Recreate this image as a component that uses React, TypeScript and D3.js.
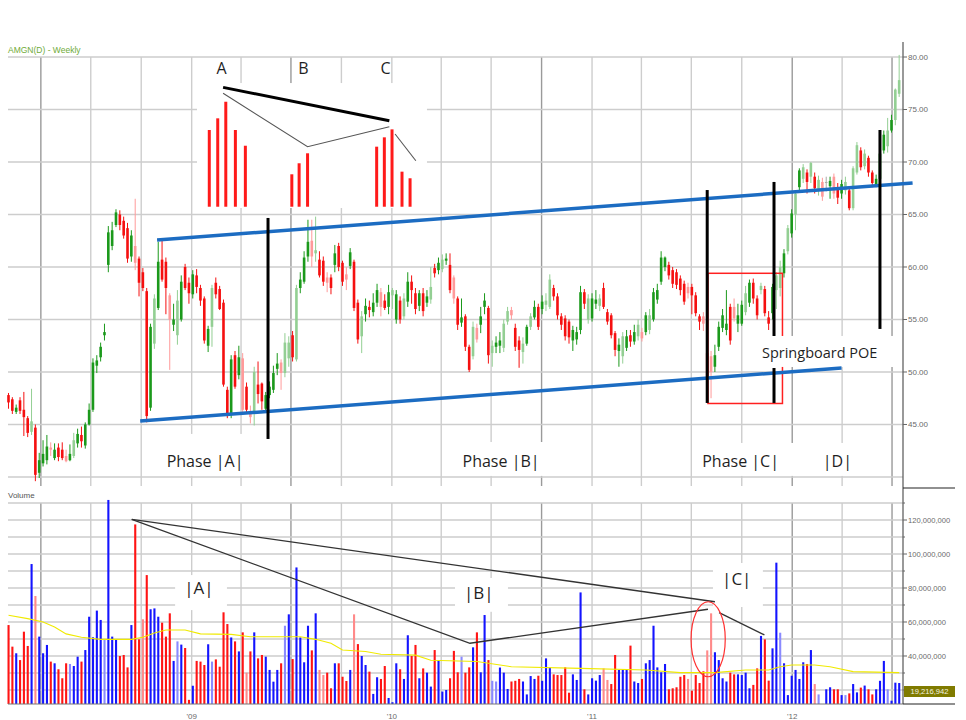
// @ts-nocheck
import * as d3 from "d3"

// weekly AMGN bars, first bar week of 2 Feb 2008
const firstWeek = new Date(2008, 1, 2)
const DAY = 86400000
const weekDate = (w) => new Date(firstWeek.getTime() + w * 7 * DAY)

const opens = [
  47.8, 47.4, 46.2, 47.3, 46.4, 45.6, 44.3, 44.7, 40.4, 41.3,
  41.6, 42.8, 41.8, 42.8, 42.6, 42.0, 41.6, 42.0, 43.2, 44.0,
  43.0, 45.0, 46.4, 50.6, 51.4, 53.5, 60.2, 62.0, 64.0, 65.0,
  64.4, 63.7, 61.0, 62.0, 60.8, 59.5, 57.7, 46.6, 52.7, 56.1,
  60.7, 60.5, 57.3, 54.5, 53.5, 55.0, 60.0, 58.5, 57.4, 59.2,
  58.0, 57.0, 52.5, 54.3, 58.5, 57.9, 56.6, 48.3, 45.9, 51.6,
  49.7, 51.3, 48.6, 46.0, 46.1, 48.8, 48.9, 46.5, 47.8, 48.3,
  50.3, 50.9, 49.9, 51.3, 53.5, 51.2, 58.0, 58.6, 61.0, 62.5,
  61.3, 60.7, 60.6, 59.0, 59.0, 60.2, 62.0, 60.4, 59.3, 60.1,
  60.5, 56.6, 53.4, 55.5, 56.2, 55.7, 56.6, 57.6, 56.8, 56.2,
  57.3, 55.0, 56.8, 55.3, 56.7, 58.6, 57.5, 56.3, 57.5, 56.6,
  56.9, 59.9, 59.7, 59.8, 60.6, 60.2, 59.0, 57.0, 54.7, 55.3,
  52.4, 51.5, 54.2, 54.5, 56.2, 56.1, 51.8, 52.4, 52.5, 52.3,
  54.8, 55.9, 54.2, 53.0, 51.9, 52.7, 54.3, 55.2, 56.2, 56.0,
  56.4, 56.2, 58.0, 57.2, 55.3, 55.1, 54.8, 53.0, 53.1, 54.0,
  57.6, 55.0, 55.1, 56.5, 56.3, 58.0, 55.7, 55.4, 53.7, 52.0,
  51.5, 52.3, 53.5, 52.9, 53.4, 53.8, 53.8, 54.0, 55.0, 56.9,
  58.6, 60.0, 60.2, 59.7, 59.5, 58.9, 58.4, 58.1, 58.1, 57.3,
  55.3, 55.3, 51.8, 51.5, 50.5, 52.4, 54.2, 54.0, 56.2, 56.2,
  54.6, 54.6, 55.7, 56.6, 58.5, 57.0, 57.8, 57.9, 55.2, 55.6,
  57.8, 58.0, 59.4, 61.5, 63.2, 65.0, 67.6, 68.4, 69.0, 68.6,
  68.6, 67.3, 68.1, 68.1, 67.7, 68.6, 67.6, 67.0, 67.3, 67.3,
  65.6, 69.0, 71.1, 69.6, 70.4, 69.0, 67.8, 68.4, 71.1, 71.5,
  73.0, 74.0, 76.5
]
const highs = [
  48.0, 47.6, 46.9, 47.6, 48.1, 45.8, 48.4, 45.0, 42.3, 43.5,
  44.0, 43.3, 43.2, 43.2, 43.3, 42.6, 43.1, 44.2, 44.6, 44.8,
  45.2, 47.0, 51.3, 51.6, 52.8, 54.6, 63.9, 64.3, 65.5, 65.4,
  64.8, 64.2, 63.5, 66.5, 61.0, 59.9, 58.0, 54.6, 57.4, 62.4,
  62.5, 60.9, 57.5, 56.5, 57.8, 59.2, 60.3, 59.0, 59.7, 59.8,
  58.3, 57.2, 54.4, 58.3, 59.0, 58.2, 56.9, 48.6, 51.6, 52.0,
  52.5, 51.8, 49.0, 46.8, 50.5, 51.0, 49.0, 48.1, 49.1, 50.6,
  51.8, 51.2, 53.7, 53.4, 53.9, 58.3, 59.5, 61.5, 64.5, 64.5,
  64.8, 61.5, 61.0, 59.5, 59.3, 62.1, 62.3, 60.6, 60.0, 61.8,
  60.7, 56.9, 55.8, 57.0, 56.8, 57.5, 58.4, 58.0, 57.4, 58.3,
  58.0, 57.8, 57.2, 57.5, 59.5, 59.2, 58.0, 57.8, 58.0, 57.8,
  60.0, 60.3, 60.9, 61.2, 61.3, 61.3, 59.2, 57.2, 57.0, 55.5,
  52.6, 54.8, 54.6, 56.2, 57.5, 56.3, 53.0, 53.4, 53.8, 55.0,
  56.2, 56.2, 54.6, 53.4, 53.3, 54.5, 55.6, 56.8, 56.5, 57.3,
  57.5, 59.3, 58.3, 57.5, 55.6, 55.4, 55.0, 54.4, 54.3, 58.2,
  57.9, 57.4, 57.5, 57.8, 57.4, 58.5, 56.0, 55.6, 53.9, 53.2,
  53.8, 54.0, 54.0, 54.5, 55.0, 54.2, 55.7, 56.0, 58.0, 58.4,
  61.5, 61.0, 60.5, 60.0, 59.8, 59.2, 58.7, 58.5, 58.4, 57.6,
  55.5, 55.7, 54.0, 52.0, 52.6, 54.8, 56.0, 57.8, 56.5, 57.0,
  56.5, 56.8, 58.2, 58.8, 58.9, 57.3, 58.5, 58.2, 55.8, 58.4,
  59.5, 60.6, 61.7, 64.0, 65.5, 67.3, 69.4, 69.8, 69.3, 70.0,
  69.0, 68.7, 68.5, 68.6, 68.6, 68.9, 68.0, 68.3, 68.6, 67.5,
  69.6, 71.9, 71.4, 71.2, 70.6, 69.2, 68.8, 71.5, 73.0, 74.2,
  74.5, 77.0, 80.2
]
const lows = [
  46.5, 46.0, 46.0, 46.0, 43.9, 43.8, 44.0, 39.6, 39.9, 41.0,
  41.2, 42.0, 41.6, 41.5, 41.6, 41.4, 41.5, 41.8, 42.8, 42.8,
  42.7, 44.9, 46.2, 49.9, 51.0, 53.0, 59.5, 61.6, 63.8, 63.5,
  62.7, 60.4, 60.5, 59.7, 57.2, 57.7, 45.2, 46.3, 52.2, 55.9,
  58.6, 55.5, 50.2, 53.9, 52.6, 54.8, 57.8, 56.5, 57.0, 57.5,
  56.3, 52.7, 51.9, 52.4, 57.0, 55.9, 48.6, 45.6, 45.6, 48.4,
  49.3, 46.0, 46.1, 45.1, 44.9, 47.0, 46.4, 46.3, 47.5, 48.0,
  49.7, 48.3, 49.5, 50.5, 51.0, 51.0, 57.5, 58.4, 60.5, 60.0,
  60.5, 59.0, 58.2, 57.6, 57.4, 59.5, 59.6, 58.2, 57.8, 59.8,
  55.8, 52.7, 51.8, 54.8, 55.2, 55.3, 56.2, 55.3, 55.9, 55.5,
  56.0, 54.6, 54.6, 55.0, 56.2, 56.5, 55.5, 55.8, 55.3, 56.2,
  56.5, 59.0, 59.3, 59.5, 60.2, 57.5, 56.5, 54.0, 54.3, 52.0,
  50.0, 51.2, 52.8, 53.7, 55.5, 50.8, 50.5, 51.8, 51.8, 51.9,
  54.5, 55.0, 52.0, 50.4, 50.8, 52.5, 54.0, 55.0, 54.0, 55.5,
  55.8, 56.0, 56.8, 55.0, 54.0, 53.0, 52.7, 52.0, 52.6, 53.6,
  56.0, 54.6, 54.8, 56.0, 55.8, 56.0, 54.5, 53.2, 51.5, 50.5,
  50.8, 52.0, 52.4, 52.6, 53.0, 52.9, 53.5, 53.6, 54.8, 56.5,
  58.3, 59.6, 58.8, 58.0, 57.9, 57.3, 56.4, 57.0, 55.5, 55.3,
  54.0, 53.9, 47.6, 47.5, 50.0, 52.0, 53.8, 53.5, 52.6, 54.8,
  53.8, 54.4, 55.4, 56.2, 56.5, 55.0, 57.4, 55.3, 54.0, 55.0,
  56.0, 57.2, 59.0, 61.2, 62.8, 63.5, 67.2, 68.0, 67.0, 68.0,
  67.0, 66.8, 66.3, 67.2, 66.5, 66.5, 66.0, 66.5, 66.9, 65.4,
  65.4, 68.8, 69.2, 69.3, 68.6, 67.6, 67.6, 68.0, 70.8, 70.9,
  72.8, 73.5, 76.2
]
const closes = [
  47.1, 46.3, 46.6, 46.3, 45.7, 44.2, 45.3, 40.2, 41.6, 42.2,
  42.9, 42.6, 42.6, 41.9, 41.8, 41.5, 42.2, 43.5, 44.1, 43.4,
  45.0, 46.4, 50.9, 51.1, 52.4, 53.8, 63.3, 63.5, 65.2, 64.0,
  63.0, 60.8, 63.0, 60.4, 58.5, 58.0, 45.8, 54.3, 57.0, 60.5,
  58.8, 58.0, 55.0, 55.0, 56.8, 58.6, 58.0, 57.5, 59.3, 58.1,
  56.8, 53.0, 54.1, 58.0, 57.4, 56.0, 48.8, 45.8, 51.2, 48.6,
  51.4, 46.4, 46.4, 45.7, 50.0, 47.9, 47.2, 47.8, 48.6, 49.9,
  50.8, 49.9, 52.8, 52.8, 51.4, 58.0, 58.8, 60.9, 62.4, 61.0,
  61.6, 59.2, 58.6, 58.5, 58.0, 61.3, 60.0, 58.6, 58.8, 61.4,
  56.1, 53.1, 55.3, 56.3, 55.9, 56.6, 57.8, 56.2, 56.1, 57.6,
  57.8, 57.4, 55.0, 57.0, 58.6, 57.8, 56.0, 57.5, 55.8, 57.2,
  58.1, 59.4, 60.4, 60.7, 60.8, 57.8, 57.0, 54.5, 55.2, 52.4,
  50.2, 54.3, 53.1, 55.3, 56.8, 51.6, 52.5, 52.8, 53.0, 54.6,
  55.8, 55.4, 52.4, 52.1, 52.7, 54.3, 55.3, 56.2, 54.3, 56.7,
  56.8, 58.8, 57.2, 55.4, 54.5, 53.4, 53.3, 54.0, 53.8, 57.6,
  56.5, 57.0, 57.0, 56.9, 57.0, 56.2, 54.8, 53.5, 52.1, 52.6,
  53.4, 53.4, 52.9, 53.8, 54.5, 53.2, 55.4, 55.4, 57.6, 57.8,
  60.9, 60.9, 59.2, 58.4, 58.3, 57.8, 56.7, 57.5, 57.3, 55.6,
  54.8, 54.6, 49.5, 50.0, 51.6, 54.3, 55.4, 54.6, 53.0, 55.1,
  55.4, 56.4, 57.5, 58.5, 57.0, 55.4, 58.2, 55.6, 54.6, 58.1,
  59.2, 60.0, 61.3, 63.7, 65.1, 67.0, 69.2, 69.5, 68.1, 69.9,
  67.5, 68.3, 66.7, 68.1, 68.2, 67.0, 66.6, 67.9, 68.1, 65.6,
  69.4, 71.6, 69.5, 70.8, 69.0, 68.0, 68.4, 70.8, 72.6, 73.0,
  74.0, 76.9, 77.8
]
// weekly volume, millions of shares
const volumes = [
  58.2, 45.5, 41.6, 37.6, 54.3, 45.9, 94.1, 75.3, 51.4, 41.6,
  46.5, 36.7, 35.7, 32.2, 26.9, 35.7, 35.3, 34.1, 39.6, 36.7,
  43.5, 63.1, 51.0, 66.7, 61.2, 49.8, 131.8, 51.4, 49.8, 40.0,
  40.6, 33.3, 58.2, 117.4, 49.8, 61.6, 87.6, 67.5, 68.0, 63.1,
  59.6, 51.4, 65.1, 37.1, 48.6, 46.7, 44.7, 14.2, 22.5, 37.1,
  36.7, 34.7, 46.9, 36.7, 38.0, 33.7, 65.7, 58.8, 50.9, 48.6,
  42.7, 53.9, 30.2, 42.7, 53.9, 38.6, 40.6, 39.6, 31.8, 24.9,
  31.8, 35.7, 57.8, 64.5, 38.2, 92.1, 50.9, 36.3, 57.8, 43.3,
  65.1, 31.8, 28.8, 30.2, 21.0, 35.7, 35.7, 27.8, 25.3, 31.8,
  64.5, 47.0, 40.0, 34.7, 30.8, 17.7, 27.5, 26.5, 34.1, 15.3,
  12.8, 35.7, 32.2, 26.5, 52.2, 40.0, 46.5, 26.9, 32.7, 30.2,
  22.0, 43.5, 37.6, 19.1, 20.0, 26.9, 43.0, 30.4, 39.6, 30.2,
  33.3, 45.1, 53.9,
  30.4, 64.1, 37.6, 25.4, 25.0, 33.2, 30.2, 20.6, 25.0, 25.4,
  26.5, 25.0, 17.4, 28.2, 26.5, 28.4, 25.4, 38.6, 33.2, 29.2,
  28.8, 28.8, 33.3, 18.4, 29.2, 25.9, 77.4, 20.4, 17.4, 26.9,
  25.5, 28.8, 32.7, 25.9, 23.5, 40.6, 31.8, 31.8, 31.8, 46.1,
  25.0, 24.1, 26.5, 35.7, 37.6, 57.8, 33.3, 30.4, 35.3, 20.4,
  21.0, 21.6, 27.8, 28.8, 26.5, 19.6, 28.8, 24.1, 31.0, 43.3,
  65.1, 42.2, 37.6, 26.9, 25.0, 30.2, 29.2, 29.2, 28.8, 30.2,
  21.0, 23.0, 32.7, 51.8, 49.8, 25.5, 44.5, 94.9, 53.7, 35.7,
  17.0, 28.4, 31.8, 26.5, 36.3, 35.3, 43.5, 23.5, 17.4, 10.0,
  20.4, 21.6, 20.4, 20.4, 17.0, 17.0, 18.0, 23.5, 18.6, 21.4,
  22.6, 20.4, 17.4, 20.4, 25.4, 37.1, 20.4, 13.7, 24.3, 24.1
]
// weeks drawn in the pale shade
const fadedCandleWeeks = [6, 11, 15, 17, 33, 38, 42, 44, 53, 61, 63, 64, 71, 72, 73, 75, 79, 80, 83, 88, 92, 97, 100, 103, 110, 113, 116, 121, 122, 126, 129, 130, 131, 134, 136, 140, 141, 151, 154, 160, 164, 165, 167, 177, 181, 183, 189, 192, 196, 200, 201, 203, 205, 207, 209, 211, 212, 215, 218, 220, 221, 223, 229, 231, 232]
const fadedVolumeWeeks = [7, 16, 25, 35, 44, 53, 62, 72, 81, 82, 90, 118, 126, 127, 155, 156, 177, 182, 183, 201, 210, 211, 218, 229]
// volume moving average [week, millions]
const volumeAverage = [[0, 64], [5, 62], [9, 60], [12, 57], [15, 53], [19, 51], [24, 49.8], [32, 49.8], [35, 51], [38, 53.5], [41, 55.3], [46, 55.3], [50, 53], [58, 52.7], [63, 51.3], [76, 51.3], [80, 49.8], [84, 47.5], [87, 43.5], [93, 42.6], [97, 41], [106, 40.5], [110, 37.5], [122, 36.8], [131, 33.7], [149, 32.7], [166, 31.8], [175, 30.2], [184, 30.2], [192, 31.8], [198, 31.8], [201, 33.7], [204, 34.7], [210, 34.7], [214, 33.7], [220, 30.8], [232, 30.2]]

const priceGrid = [40, 45, 50, 55, 60, 65, 70, 75, 80]
const priceTicks = [45, 50, 55, 60, 65, 70, 75, 80]
const volumeGrid = [20, 30, 40, 50, 60, 70, 80, 90, 100, 110, 120, 130]
const volumeTicks = [40, 60, 80, 100, 120]
const yearTicks = [["'09", new Date(2009, 0, 1)], ["'10", new Date(2010, 0, 1)], ["'11", new Date(2011, 0, 1)], ["'12", new Date(2012, 0, 1)]]
const lastVolume = "19,216,942"

// annotations, in [week, price] or [week, volume]
const channelLines = [[[38.7, 62.57], [235.5, 68.0]], [[34.3, 45.33], [217.0, 50.38]]]
const phaseMarkers = [[67.6, 64.67, 43.62], [182.0, 67.33, 47.05], [199.4, 68.1, 53.43], [199.4, 50.38, 47.05], [227.0, 73.05, 54.1]]
const springboardBox = [182.2, 201.6, 59.4, 47.0]
const priceLabels = [["Phase |A|", 51.2, 41.52, 16], ["Phase |B|", 128.3, 41.46, 16], ["Phase |C|", 190.7, 41.46, 16], ["|D|", 215.9, 41.46, 16], ["Springboard POE", 211.3, 51.84, 14.5]]
const priceLabelBoxes = [[39.5, 62.9, 44.1, 40.1], [116.3, 149.4, 43.33, 40.1], [180.1, 223.8, 43.24, 40.1], [195.7, 230.9, 53.43, 50.48], [49.1, 109.0, 77.52, 65.62]]
const insetLetters = [["A", 55.5, 78.92], ["B", 76.8, 78.92], ["C", 98.2, 78.92]]
const insetBarWeeks = [52.3, 54.5, 56.6, 59.1, 61.7, 73.8, 75.7, 77.9, 95.9, 97.9, 99.9, 102.5, 104.6]
const insetBarTops = [73.05, 74.16, 75.74, 73.05, 71.55, 68.83, 69.88, 70.83, 71.46, 72.35, 73.11, 69.08, 68.45]
const insetBarBase = 65.74
const insetThick = [[55.9, 77.11], [99.2, 73.93]]
const insetThin = [[[55.9, 76.54], [77.9, 71.46], [99.2, 73.36]], [[100.7, 72.67], [106.1, 70.12]]]
const volumeLines = [[[32.1, 120.4], [184.0, 71.9]], [[32.1, 120.4], [120.2, 47.5], [182.2, 67.5]], [[185.1, 65.5], [196.9, 52.4]]]
const volumeEllipse = [177.8, 186.7, 71.9, 27.8]
const volumeLabels = [["|A|", 49.6, 80.0], ["|B|", 122.5, 77.1], ["|C|", 189.7, 85.3]]
const volumeLabelBoxes = [[43.4, 56.9, 87.6, 67.0], [116.3, 130.1, 85.9, 66.0], [183.5, 196.5, 94.7, 68.8]]

export default function App() {
  const width = 966, height = 720
  const left = 8, right = 903
  const x = d3.scaleTime().domain([weekDate(-0.13), weekDate(233)]).range([left, right])
  const xw = (w) => x(weekDate(w))
  const yP = d3.scaleLinear().domain([38.95, 81.43]).range([488, 42])
  const yV = d3.scaleLinear().domain([11.76, 137.65]).range([704, 490])
  const weeks = d3.range(closes.length)
  const fadedC = new Set(fadedCandleWeeks)
  const fadedV = new Set(fadedVolumeWeeks)
  const quarters = d3.timeMonth.every(3).range(x.domain()[0], x.domain()[1])
  const pLine = d3.line().x(d => xw(d[0])).y(d => yP(d[1]))
  const vLine = d3.line().x(d => xw(d[0])).y(d => yV(d[1]))
  const font = "'Liberation Sans', Arial, sans-serif"
  const noteFont = "'Open Sans', sans-serif"
  const grid = "#cdcdcd"

  return (
    <svg width={width} height={height} style={{ position: "absolute", left: 0, top: 0, background: "#fff" }}>
      <rect width={width} height={height} fill="#fff" />

      {/* grid */}
      {quarters.map((q, i) => (
        <g key={"q" + i} stroke={i % 5 === 0 || i === quarters.length - 1 ? "#9a9a9a" : grid} strokeWidth={1.4}>
          <line x1={x(q)} x2={x(q)} y1={yP(80)} y2={486} />
          <line x1={x(q)} x2={x(q)} y1={yV(130)} y2={704} />
        </g>
      ))}
      {priceGrid.map(p => (
        <line key={"pg" + p} x1={left} x2={right} y1={yP(p)} y2={yP(p)} stroke={grid} strokeWidth={1.4} />
      ))}
      {volumeGrid.map(v => (
        <line key={"vg" + v} x1={left} x2={right} y1={yV(v)} y2={yV(v)} stroke={grid} strokeWidth={1.4} />
      ))}

      {/* white boxes behind the notes */}
      {priceLabelBoxes.map((b, i) => (
        <rect key={"pb" + i} x={xw(b[0])} y={yP(b[2])} width={xw(b[1]) - xw(b[0])} height={yP(b[3]) - yP(b[2])} fill="#fff" />
      ))}
      {volumeLabelBoxes.map((b, i) => (
        <rect key={"vb" + i} x={xw(b[0])} y={yV(b[2])} width={xw(b[1]) - xw(b[0])} height={yV(b[3]) - yV(b[2])} fill="#fff" />
      ))}

      {/* candles */}
      {weeks.map(i => {
        const o = opens[i], c = closes[i]
        const f = fadedC.has(i)
        const color = o === c ? "#a9a9a9" : c > o ? (f ? "#93cf93" : "#1b991b") : (f ? "#ff9a9a" : "#f51010")
        const cx = xw(i)
        const top = yP(Math.max(o, c)), bot = yP(Math.min(o, c))
        return (
          <g key={"c" + i}>
            <line x1={cx} x2={cx} y1={yP(highs[i])} y2={yP(lows[i])} stroke={color} strokeWidth={1} />
            <rect x={cx - 1.3} y={top} width={2.6} height={Math.max(1, bot - top)} fill={color} />
          </g>
        )
      })}

      {/* volume */}
      {weeks.map(i => {
        const up = closes[i] >= opens[i]
        const f = fadedV.has(i)
        const color = up ? (f ? "#8a8aff" : "#1414ff") : (f ? "#ff8a8a" : "#ff1414")
        const top = yV(Math.max(volumes[i], yV.domain()[0]))
        return <rect key={"v" + i} x={xw(i) - 1} y={top} width={2.1} height={704 - top} fill={color} />
      })}
      <path d={vLine(volumeAverage)} fill="none" stroke="#f0ea00" strokeWidth={1.1} />
      <line x1={left} x2={right} y1={704} y2={704} stroke="#777" strokeWidth={1} />

      {/* axes */}
      <line x1={right} x2={right} y1={42} y2={488} stroke="#555" strokeWidth={1.2} />
      <line x1={right} x2={right} y1={488} y2={704} stroke="#555" strokeWidth={1.2} />
      <line x1={right} x2={955} y1={488} y2={488} stroke="#222" strokeWidth={1.2} />
      <line x1={right} x2={955} y1={704} y2={704} stroke="#222" strokeWidth={1.2} />
      {priceTicks.map(p => (
        <g key={"pt" + p}>
          <line x1={right} x2={right + 4} y1={yP(p)} y2={yP(p)} stroke="#666" />
          <text x={right + 5} y={yP(p)} dy="0.35em" fontFamily={font} fontSize={8} fill="#6a6a6a">{p.toFixed(2)}</text>
        </g>
      ))}
      {volumeGrid.map(v => (
        <line key={"vt" + v} x1={right} x2={right + (v % 20 === 0 ? 4 : 2)} y1={yV(v)} y2={yV(v)} stroke="#666" />
      ))}
      {volumeTicks.map(v => (
        <text key={"vl" + v} x={right + 5} y={yV(v)} dy="0.35em" fontFamily={font} fontSize={7.6} fill="#6a6a6a">{d3.format(",")(v * 1e6)}</text>
      ))}
      <rect x={right + 1} y={686} width={51} height={11} fill="#807b00" />
      <text x={right + 26.5} y={691.5} dy="0.35em" textAnchor="middle" fontFamily={font} fontSize={7.6} fill="#f4f4e0">{lastVolume}</text>
      {yearTicks.map(([label, d]) => (
        <text key={label} x={x(d)} y={716} dy="0.35em" textAnchor="middle" fontFamily={font} fontSize={8} fill="#6a6a6a">{label}</text>
      ))}
      <text x={8} y={50} dy="0.35em" fontFamily={font} fontSize={8.5} fill="#6fab38">AMGN(D) - Weekly</text>
      <text x={8} y={495} dy="0.35em" fontFamily={font} fontSize={8} fill="#555">Volume</text>

      {/* price annotations */}
      <rect x={xw(springboardBox[0])} y={yP(springboardBox[2])} width={xw(springboardBox[1]) - xw(springboardBox[0])}
        height={yP(springboardBox[3]) - yP(springboardBox[2])} fill="none" stroke="#ff2020" strokeWidth={1.5} />
      <rect x={xw(195.7)} y={yP(53.43)} width={xw(230.9) - xw(195.7)} height={yP(50.48) - yP(53.43)} fill="#fff" />
      {channelLines.map((l, i) => (
        <path key={"ch" + i} d={pLine(l)} fill="none" stroke="#1c6cc2" strokeWidth={3.5} />
      ))}
      {phaseMarkers.map((m, i) => (
        <line key={"pm" + i} x1={xw(m[0])} x2={xw(m[0])} y1={yP(m[1])} y2={yP(m[2])} stroke="#000" strokeWidth={3} />
      ))}
      {priceLabels.map(([t, w, p, s]) => (
        <text key={t} x={xw(w)} y={yP(p)} dy="0.35em" textAnchor="middle" fontFamily={noteFont} fontSize={s} fill="#1f1f1f">{t}</text>
      ))}

      {/* A-B-C sketch */}
      {insetLetters.map(([t, w, p]) => (
        <text key={t} x={xw(w)} y={yP(p)} dy="0.35em" textAnchor="middle" fontFamily={noteFont} fontSize={16} fill="#1f1f1f">{t}</text>
      ))}
      {insetBarWeeks.map((w, i) => (
        <line key={"ib" + i} x1={xw(w)} x2={xw(w)} y1={yP(insetBarTops[i])} y2={yP(insetBarBase)} stroke="#ff1a1a" strokeWidth={3} />
      ))}
      <path d={pLine(insetThick)} fill="none" stroke="#000" strokeWidth={3} />
      {insetThin.map((l, i) => (
        <path key={"it" + i} d={pLine(l)} fill="none" stroke="#555" strokeWidth={1.1} />
      ))}

      {/* volume annotations */}
      {volumeLines.map((l, i) => (
        <path key={"vln" + i} d={vLine(l)} fill="none" stroke="#333" strokeWidth={1.3} />
      ))}
      <ellipse cx={(xw(volumeEllipse[0]) + xw(volumeEllipse[1])) / 2} cy={(yV(volumeEllipse[2]) + yV(volumeEllipse[3])) / 2}
        rx={(xw(volumeEllipse[1]) - xw(volumeEllipse[0])) / 2} ry={(yV(volumeEllipse[3]) - yV(volumeEllipse[2])) / 2}
        fill="none" stroke="#ff3030" strokeWidth={1.2} />
      {volumeLabels.map(([t, w, v]) => (
        <text key={t} x={xw(w)} y={yV(v)} dy="0.35em" textAnchor="middle" fontFamily={noteFont} fontSize={17} fill="#1f1f1f">{t}</text>
      ))}
    </svg>
  )
}
